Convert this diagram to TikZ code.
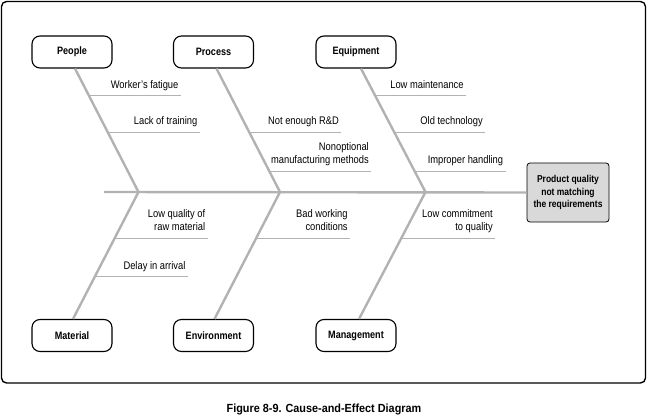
\documentclass[tikz,border=0pt]{standalone}
\usepackage{fontspec}
\setmainfont{Liberation Sans}[FakeStretch=0.85]
\newfontfamily\capfont{Liberation Sans}[FakeStretch=0.92]
\usetikzlibrary{positioning}
\definecolor{bonegray}{RGB}{178,178,178}
\definecolor{effectgray}{RGB}{217,217,217}
\tikzset{
  cat/.style={draw, rounded corners=8pt, line width=1.1pt, fill=white,
    minimum width=80pt, minimum height=32pt,
    font=\fontsize{10.7}{12}\selectfont\bfseries},
  effect/.style={draw, rounded corners=3pt, line width=0.8pt, fill=effectgray,
    minimum width=82pt, minimum height=59pt, align=center,
    font=\fontsize{10}{12.5}\selectfont\bfseries},
  spine/.style={draw=bonegray, line width=2.4pt},
  bone/.style={draw=bonegray, line width=2.4pt},
  twig/.style={draw=bonegray, line width=0.9pt},
  cause/.style={anchor=south east, align=right, inner xsep=2pt, inner ysep=3pt,
    font=\fontsize{11}{13}\selectfont, execute at end node=\strut},
  caption/.style={font=\capfont\fontsize{11.8}{14}\selectfont\bfseries}
}

\begin{document}
\begin{tikzpicture}[x=1pt,y=-1pt]
 \useasboundingbox (0,0) rectangle (648,417);
 \draw[line width=1.4pt, rounded corners=5pt] (1.5,1.5) rectangle (645.5,383);

 % categories and effect
 \node[cat] (people) at (72,52) {People};
 \node[cat] (process) at (213.5,52) {Process};
 \node[cat] (equip) at (356,52) {Equipment};
 \node[cat] (material) at (72,335.5) {Material};
 \node[cat] (environ) at (213.5,335.5) {Environment};
 \node[cat] (manage) at (356,335.5) {Management};
 \node[effect] (effect) at (568,192.5) {Product quality\\not matching\\the requirements};

 % spine
 \coordinate (tail) at (104,192);
 \coordinate (j1) at (138.5,192);
 \coordinate (j2) at (280,192);
 \coordinate (j3) at (425.5,192);
 \draw[spine] (tail) -- (effect.west);

 % upper bones
 \draw[bone] ([xshift=3pt]people.south) -- (j1)
   coordinate[pos=0.218] (pe1) coordinate[pos=0.516] (pe2);
 \draw[bone] ([xshift=3pt]process.south) -- (j2)
   coordinate[pos=0.516] (pr1) coordinate[pos=0.831] (pr2);
 \draw[bone] ([xshift=5pt]equip.south) -- (j3)
   coordinate[pos=0.218] (eq1) coordinate[pos=0.516] (eq2) coordinate[pos=0.831] (eq3);

 % lower bones
 \draw[bone] (j1) -- ([xshift=1pt]material.north)
   coordinate[pos=0.365] (ma1) coordinate[pos=0.667] (ma2);
 \draw[bone] (j2) -- ([xshift=1pt]environ.north)
   coordinate[pos=0.365] (en1);
 \draw[bone] (j3) -- ([xshift=3pt]manage.north)
   coordinate[pos=0.365] (mg1);

 % causes
 \draw[twig] (pe1) -- ++(92,0) node[cause] (c1) {Worker's fatigue};
 \draw[twig] (pe2) -- ++(92,0) node[cause] (c2) {Lack of training};
 \draw[twig] (pr1) -- ++(92,0) node[cause] (c3) {Not enough R\&D};
 \draw[twig] (pr2) -- ++(102,0) node[cause] (c4) {Nonoptional\\manufacturing methods};
 \draw[twig] (eq1) -- ++(91,0) node[cause] (c5) {Low maintenance};
 \draw[twig] (eq2) -- ++(91,0) node[cause] (c6) {Old technology};
 \draw[twig] (eq3) -- ++(91,0) node[cause] (c7) {Improper handling};
 \draw[twig] (ma1) -- ++(93,0) node[cause] (c8) {Low quality of\\raw material};
 \draw[twig] (ma2) -- ++(93,0) node[cause] (c9) {Delay in arrival};
 \draw[twig] (en1) -- ++(94,0) node[cause] (c10) {Bad working\\conditions};
 \draw[twig] (mg1) -- ++(94,0) node[cause] (c11) {Low commitment\\to quality};

 \node[caption] (title) at (324,409) {Figure 8-9. Cause-and-Effect Diagram};
\end{tikzpicture}
\end{document}
